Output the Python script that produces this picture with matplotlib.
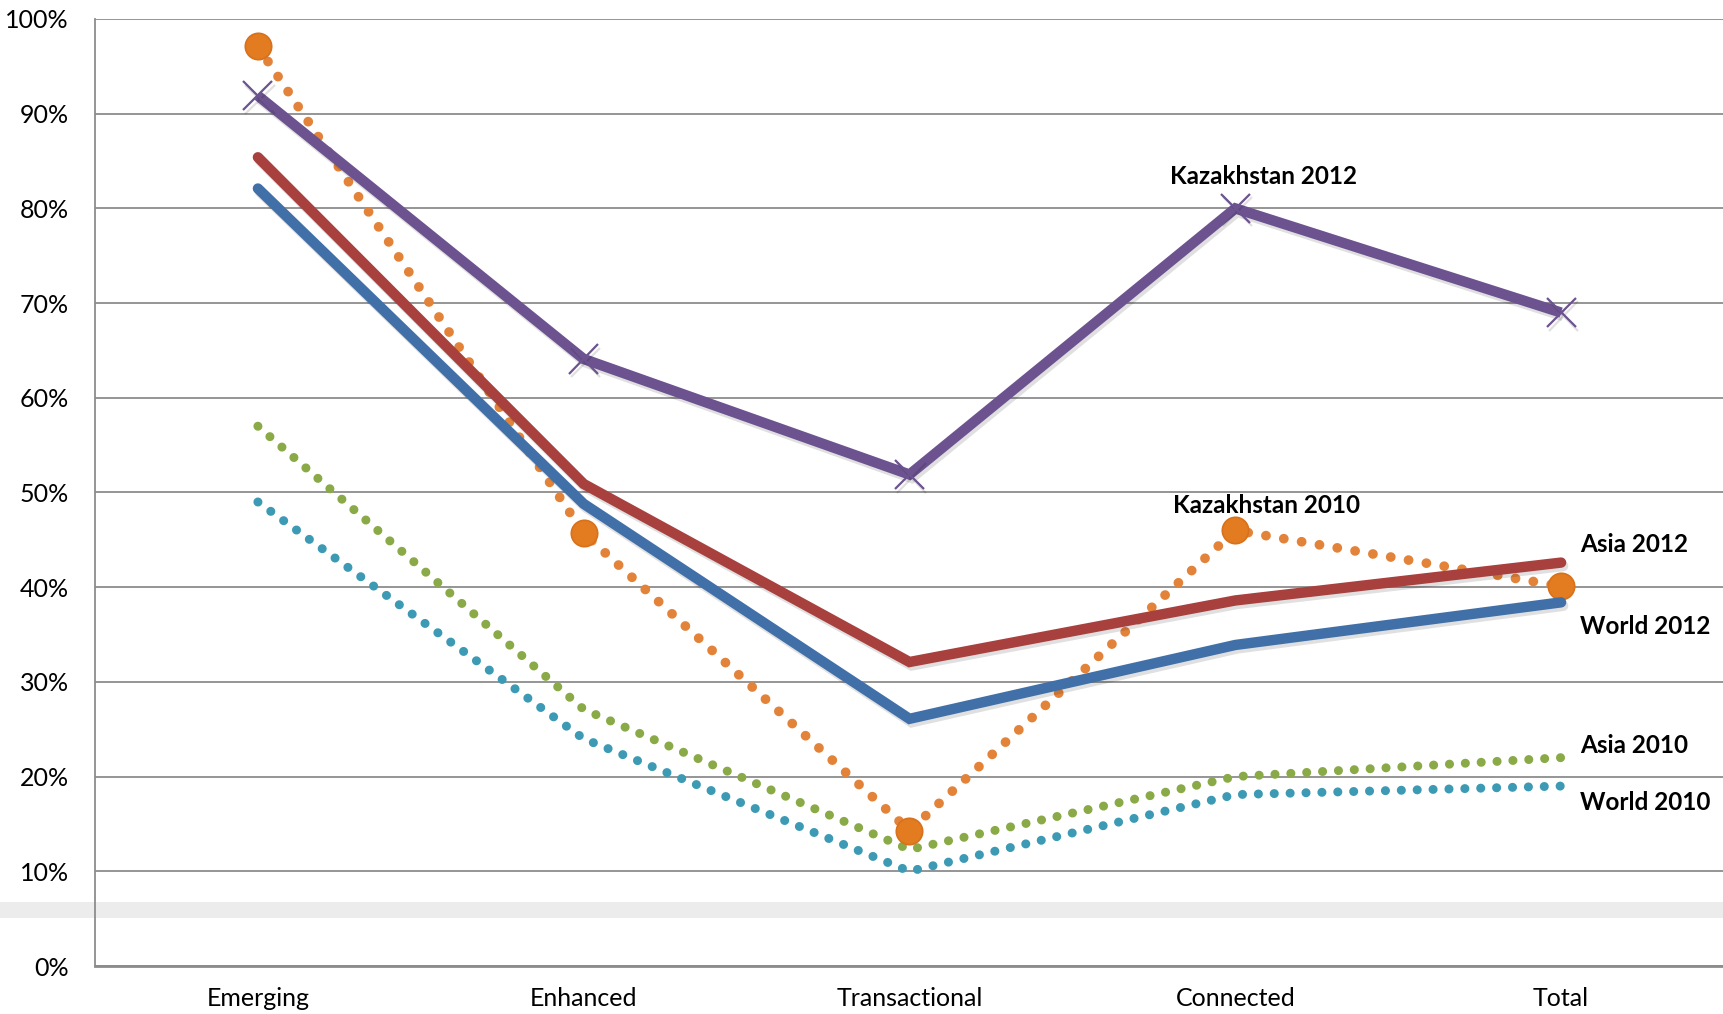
import matplotlib
matplotlib.use("Agg")
import matplotlib.pyplot as plt
import matplotlib.patheffects as pe
from matplotlib.patches import Rectangle

plt.rcParams['font.family'] = ['Lato', 'DejaVu Sans']

categories = ["Emerging", "Enhanced", "Transactional", "Connected", "Total"]
kaz_2012 = [91.9, 64.1, 51.9, 80.0, 69.0]
asia_2012 = [85.4, 50.9, 32.1, 38.6, 42.6]
world_2012 = [82.1, 48.8, 26.1, 33.9, 38.4]
kaz_2010 = [97.1, 45.7, 14.3, 46.0, 40.1]
asia_2010 = [57.0, 27.1, 12.3, 20.0, 22.0]
world_2010 = [49.0, 24.0, 10.0, 18.1, 19.0]
y_ticks = [0, 10, 20, 30, 40, 50, 60, 70, 80, 90, 100]
y_tick_labels = [f"{v}%" for v in y_ticks]

W, H = 1724, 1014
fig = plt.figure(figsize=(W / 100, H / 100), dpi=100)
fig.patch.set_facecolor("white")

# light gray band across the figure (artifact in the original)
fig.patches.append(Rectangle((0, 1 - 918 / H), 1, 16 / H, transform=fig.transFigure,
                             facecolor="#ececec", edgecolor="none", zorder=0))

ax = fig.add_axes([95 / W, 1 - 966 / H, (W - 95) / W, (966 - 19) / H])
ax.set_facecolor("none")
ax.set_zorder(1)

x = list(range(len(categories)))

shadow = [pe.SimpleLineShadow(offset=(1.5, -2.5), alpha=0.12, shadow_color="black"), pe.Normal()]

# dotted series
ax.plot(x, world_2010, color="#3D9AB4", lw=6.5, linestyle=(0, (0.01, 1.75)),
        dash_capstyle="round", zorder=3)
ax.plot(x, asia_2010, color="#8AAA48", lw=6.5, linestyle=(0, (0.01, 1.75)),
        dash_capstyle="round", zorder=3)
ax.plot(x, kaz_2010, color="#E3833A", lw=7, linestyle=(0, (0.01, 1.85)),
        dash_capstyle="round", zorder=4)
ax.plot(x, kaz_2010, linestyle="none", marker="o", markersize=19,
        markerfacecolor="#E37B20", markeredgecolor="#D8711C", markeredgewidth=1.2,
        zorder=4)

# solid series
ax.plot(x, world_2012, color="#4170A9", lw=7.5, solid_capstyle="round",
        solid_joinstyle="miter", zorder=5, path_effects=shadow)
ax.plot(x, asia_2012, color="#A8403E", lw=7.5, solid_capstyle="round",
        solid_joinstyle="miter", zorder=5, path_effects=shadow)
ax.plot(x, kaz_2012, color="#6C5390", lw=7.5, solid_capstyle="butt",
        solid_joinstyle="miter", zorder=6, path_effects=shadow,
        marker="x", markersize=21, markeredgewidth=1.6,
        markeredgecolor="#6C5390")

ax.set_xlim(-0.5, 4.5)
ax.set_ylim(0, 100)
ax.set_yticks(y_ticks)
ax.set_yticklabels(y_tick_labels)
ax.set_xticks(x)
ax.set_xticklabels(categories)
ax.tick_params(axis="y", length=0, pad=19, labelsize=18)
ax.tick_params(axis="x", length=0, pad=15, labelsize=18)

ax.grid(axis="y", color="#8c8c8c", lw=1.3, zorder=1)
ax.set_axisbelow(True)
for s in ["top", "right"]:
    ax.spines[s].set_visible(False)
ax.spines["left"].set_color("#8c8c8c")
ax.spines["left"].set_linewidth(1.3)
ax.spines["bottom"].set_color("#8c8c8c")
ax.spines["bottom"].set_linewidth(2)

lab = dict(fontsize=17.5, fontweight="bold", color="black", zorder=10)
ax.text(3.088, 83.4, "Kazakhstan 2012", ha="center", va="center", **lab)
ax.text(3.097, 48.6, "Kazakhstan 2010", ha="center", va="center", **lab)
ax.text(4.058, 44.5, "Asia 2012", ha="left", va="center", **lab)
ax.text(4.058, 35.9, "World 2012", ha="left", va="center", **lab)
ax.text(4.058, 23.3, "Asia 2010", ha="left", va="center", **lab)
ax.text(4.058, 17.25, "World 2010", ha="left", va="center", **lab)

fig.savefig("out.png", dpi=100)
